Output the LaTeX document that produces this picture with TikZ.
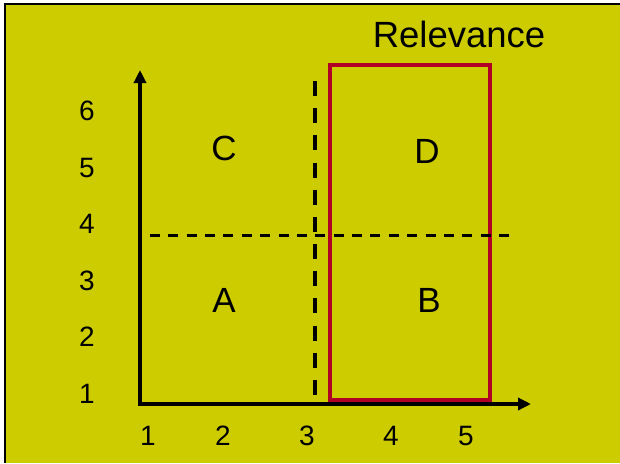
\documentclass[tikz,border=0pt]{standalone}
\usepackage{fontspec}
\setmainfont{Liberation Sans}
\usetikzlibrary{arrows.meta}
\definecolor{bgolive}{RGB}{204,204,0}
\definecolor{boxred}{RGB}{176,0,38}
\tikzset{
  axis/.style={line width=3.4pt, -{Triangle[length=13pt,width=12pt]}},
  vdash/.style={line width=3.6pt, dash pattern=on 15pt off 12.18pt},
  hdash/.style={line width=3pt, dash pattern=on 10pt off 8.37pt},
  digit/.style={anchor=base, inner sep=0pt, font=\fontsize{28}{28}\selectfont},
  quad/.style={anchor=base, inner sep=0pt, font=\fontsize{35}{35}\selectfont},
  titletext/.style={anchor=base, inner sep=0pt, font=\fontsize{36.5}{36.5}\selectfont},
}
\begin{document}
\begin{tikzpicture}[x=1pt,y=-1pt]
\useasboundingbox (0,0) rectangle (620,463);
\fill[white] (0,0) rectangle (620,463);
\fill[bgolive] (4,3) rectangle (620,463);
\draw[line width=2.4pt] (5,463) -- (5,4) -- (620,4);
% red box
\draw[boxred, line width=3.8pt] (330,65) rectangle (490,400);
% dashed lines
\coordinate (vtop) at (315,81);
\coordinate (vbot) at (315,395);
\coordinate (hl) at (150,235);
\coordinate (hr) at (509,235);
\draw[vdash] (vtop) -- (vbot);
\draw[hdash] (hl) -- (hr);
% axes
\coordinate (o) at (140,404);
\coordinate (ytip) at (140,70);
\coordinate (xtip) at (531,404);
\draw[axis] (o) -- (ytip);
\draw[axis] (138.3,404) -- (xtip);
% title
\node[titletext] (title) at (459,47) {Relevance};
% quadrant letters
\node[quad] (C) at (224,160) {C};
\node[quad] (D) at (427,163) {D};
\node[quad] (A) at (224,312) {A};
\node[quad] (B) at (429,312) {B};
% y labels
\node[digit] (y6) at (87,120) {6};
\node[digit] (y5) at (87,177) {5};
\node[digit] (y4) at (87,233) {4};
\node[digit] (y3) at (87,290) {3};
\node[digit] (y2) at (87,346) {2};
\node[digit] (y1) at (87,403) {1};
% x labels
\node[digit] (x1) at (148,445) {1};
\node[digit] (x2) at (223,445) {2};
\node[digit] (x3) at (307,445) {3};
\node[digit] (x4) at (391,445) {4};
\node[digit] (x5) at (466,445) {5};
\end{tikzpicture}
\end{document}
